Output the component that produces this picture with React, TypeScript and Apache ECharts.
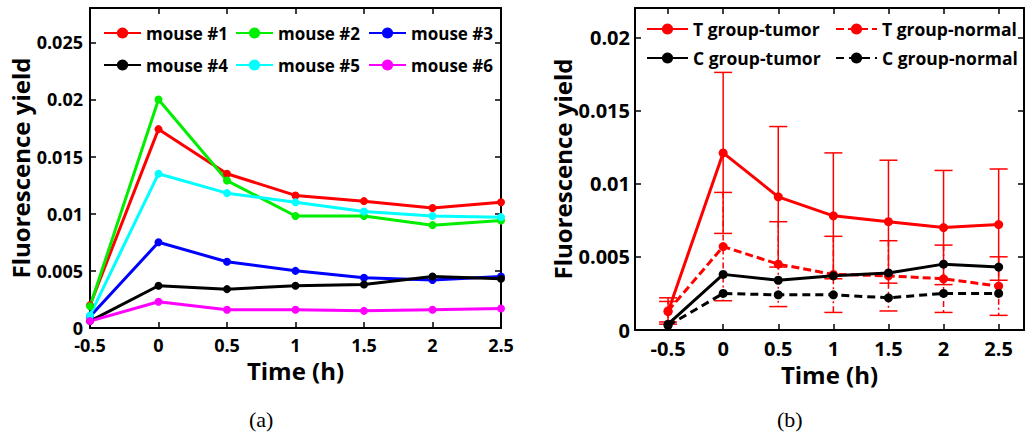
import React, { useEffect, useRef } from "react";
import * as echarts from "echarts";

const times = [-0.5, 0, 0.5, 1, 1.5, 2, 2.5];
const xTicks = [-0.5, 0, 0.5, 1, 1.5, 2, 2.5];
const leftYTicks = [0, 0.005, 0.01, 0.015, 0.02, 0.025];
const rightYTicks = [0, 0.005, 0.01, 0.015, 0.02];

const mouseNames = ["mouse #1", "mouse #2", "mouse #3", "mouse #4", "mouse #5", "mouse #6"];
const mouseColors = ["#ff0000", "#00ee00", "#0000ff", "#000000", "#00ffff", "#ff00ff"];
const mouse1 = [0.002, 0.0174, 0.0135, 0.0116, 0.0111, 0.0105, 0.011];
const mouse2 = [0.0019, 0.02, 0.0129, 0.0098, 0.0098, 0.009, 0.0094];
const mouse3 = [0.001, 0.0075, 0.0058, 0.005, 0.0044, 0.0042, 0.0045];
const mouse4 = [0.0006, 0.0037, 0.0034, 0.0037, 0.0038, 0.0045, 0.0043];
const mouse5 = [0.0011, 0.0135, 0.0118, 0.011, 0.0102, 0.0098, 0.0097];
const mouse6 = [0.0006, 0.0023, 0.0016, 0.0016, 0.0015, 0.0016, 0.0017];
const mouseData = [mouse1, mouse2, mouse3, mouse4, mouse5, mouse6];

const groupNames = ["T group-tumor", "T group-normal", "C group-tumor", "C group-normal"];
const tTumor = [0.00125, 0.0121, 0.0091, 0.0078, 0.0074, 0.007, 0.0072];
const tTumorErr = [0.0007, 0.0055, 0.0048, 0.0043, 0.0042, 0.0039, 0.0038];
const tNormal = [0.0013, 0.0057, 0.0045, 0.0038, 0.0037, 0.0035, 0.003];
const tNormalErr = [0.0009, 0.0037, 0.0029, 0.0026, 0.0024, 0.0023, 0.002];
const cTumor = [0.0004, 0.0038, 0.0034, 0.0037, 0.0039, 0.0045, 0.0043];
const cNormal = [0.0003, 0.0025, 0.0024, 0.0024, 0.0022, 0.0025, 0.0025];

const FONT = "'Open Sans', sans-serif";

function pairs(vals: number[]) {
  return times.map((t, i) => [t, vals[i]]);
}

function errData(mean: number[], err: number[]) {
  return times.map((t, i) => [t, mean[i] - err[i], mean[i] + err[i]]);
}

function errSeries(data: number[][], dash: number[] | null) {
  return {
    type: "custom",
    xAxisIndex: 2,
    yAxisIndex: 2,
    data,
    encode: { x: 0, y: [1, 2] },
    clip: false,
    z: 1,
    renderItem: (params: any, api: any) => {
      const x = api.value(0);
      const lo = api.value(1);
      const hi = api.value(2);
      const top = api.coord([x, hi]);
      const bot = api.coord([x, lo]);
      const hw = 9;
      const style: any = { stroke: "#ff0000", lineWidth: 1.5, fill: "none" };
      if (dash) style.lineDash = dash;
      return {
        type: "group",
        children: [
          { type: "line", shape: { x1: top[0], y1: top[1], x2: bot[0], y2: bot[1] }, style },
          { type: "line", shape: { x1: top[0] - hw, y1: top[1], x2: top[0] + hw, y2: top[1] }, style: { ...style, lineDash: null } },
          { type: "line", shape: { x1: bot[0] - hw, y1: bot[1], x2: bot[0] + hw, y2: bot[1] }, style: { ...style, lineDash: null } },
        ],
      };
    },
  };
}

function axisPair(gridIndex: number, min: number, max: number, ticks: number[], fontSize: number, isX: boolean, nameGap: number, name: string, labelMargin: number) {
  const base = {
    gridIndex,
    type: "value",
    min,
    max,
    splitLine: { show: false },
    axisLine: { show: true, onZero: false, lineStyle: { color: "#000", width: 2 } },
    axisTick: { show: true, inside: true, length: 6, customValues: ticks, lineStyle: { color: "#000", width: 1.5 } },
  };
  const main = {
    ...base,
    position: isX ? "bottom" : "left",
    axisLabel: {
      show: true,
      customValues: ticks,
      fontFamily: FONT,
      fontWeight: "bold",
      fontSize,
      color: "#000",
      margin: labelMargin,
      formatter: (v: number) => String(v),
    },
    name,
    nameLocation: "middle",
    nameGap,
    nameTextStyle: { fontFamily: FONT, fontWeight: "bold", fontSize: 24, color: "#000" },
  };
  const mirror = {
    ...base,
    position: isX ? "top" : "right",
    axisLabel: { show: false },
  };
  return [main, mirror];
}

export default function App() {
  const ref = useRef<HTMLDivElement>(null);
  useEffect(() => {
    document.body.style.margin = "0";
    if (!ref.current) return;
    const chart = echarts.init(ref.current, null, { renderer: "svg" });

    const leftLegendPos = [
      [103, 23], [235, 23], [368, 23],
      [103, 55], [235, 55], [368, 55],
    ];
    const rightLegendPos = [
      [646, 19], [835, 19],
      [646, 48], [835, 48],
    ];

    const legends: any[] = [];
    mouseNames.forEach((n, i) => {
      legends.push({
        data: [n],
        left: leftLegendPos[i][0],
        top: leftLegendPos[i][1],
        padding: 0,
        itemWidth: 37,
        itemHeight: 14,
        selectedMode: false,
        textStyle: { fontFamily: FONT, fontWeight: "bold", fontSize: 17, color: "#000", lineHeight: 20 },
      });
    });
    groupNames.forEach((n, i) => {
      legends.push({
        data: [n],
        left: rightLegendPos[i][0],
        top: rightLegendPos[i][1],
        padding: 0,
        itemWidth: 41,
        itemHeight: 14,
        selectedMode: false,
        textStyle: { fontFamily: FONT, fontWeight: "bold", fontSize: 17.5, color: "#000", lineHeight: 20 },
      });
    });

    const [lx, lxm] = axisPair(0, -0.5, 2.5, xTicks, 18, true, 23, "Time (h)", 8);
    const [ly, lym] = axisPair(0, 0, 0.028, leftYTicks, 18, false, 58, "Fluorescence yield", 7);
    const [rx, rxm] = axisPair(1, -0.8, 2.73, xTicks, 20, true, 24, "Time (h)", 8);
    const [ry, rym] = axisPair(1, 0, 0.022, rightYTicks, 20, false, 61, "Fluorescence yield", 5);

    const mouseSeries = mouseNames.map((n, i) => ({
      name: n,
      type: "line",
      xAxisIndex: 0,
      yAxisIndex: 0,
      data: pairs(mouseData[i]),
      symbol: "circle",
      symbolSize: 8,
      lineStyle: { color: mouseColors[i], width: 3 },
      itemStyle: { color: mouseColors[i] },
      z: 3,
    }));

    const groupVals = [tTumor, tNormal, cTumor, cNormal];
    const groupColors = ["#ff0000", "#ff0000", "#000000", "#000000"];
    const groupDash: any[] = ["solid", [8, 4], "solid", [8, 5]];
    const groupSeries = groupNames.map((n, i) => ({
      name: n,
      type: "line",
      xAxisIndex: 2,
      yAxisIndex: 2,
      data: pairs(groupVals[i]),
      symbol: "circle",
      symbolSize: 9,
      lineStyle: { color: groupColors[i], width: 3, type: groupDash[i] },
      itemStyle: { color: groupColors[i] },
      z: 3,
    }));

    chart.setOption({
      animation: false,
      backgroundColor: "#fff",
      grid: [
        { left: 90, top: 8, width: 411, height: 320, show: false },
        { left: 635, top: 8, width: 389, height: 322, show: false },
      ],
      xAxis: [lx, lxm, rx, rxm],
      yAxis: [ly, lym, ry, rym],
      legend: legends,
      graphic: [
        { type: "text", left: 249, top: 408, style: { text: "(a)", font: "22px 'Liberation Serif', serif", fill: "#000" } },
        { type: "text", left: 777, top: 408, style: { text: "(b)", font: "22px 'Liberation Serif', serif", fill: "#000" } },
      ],
      series: [
        ...mouseSeries,
        errSeries(errData(tTumor, tTumorErr), null),
        errSeries(errData(tNormal, tNormalErr), [6, 3, 2, 3]),
        ...groupSeries,
      ],
    });
    return () => chart.dispose();
  }, []);
  return <div ref={ref} style={{ width: 1026, height: 433 }} />;
}
